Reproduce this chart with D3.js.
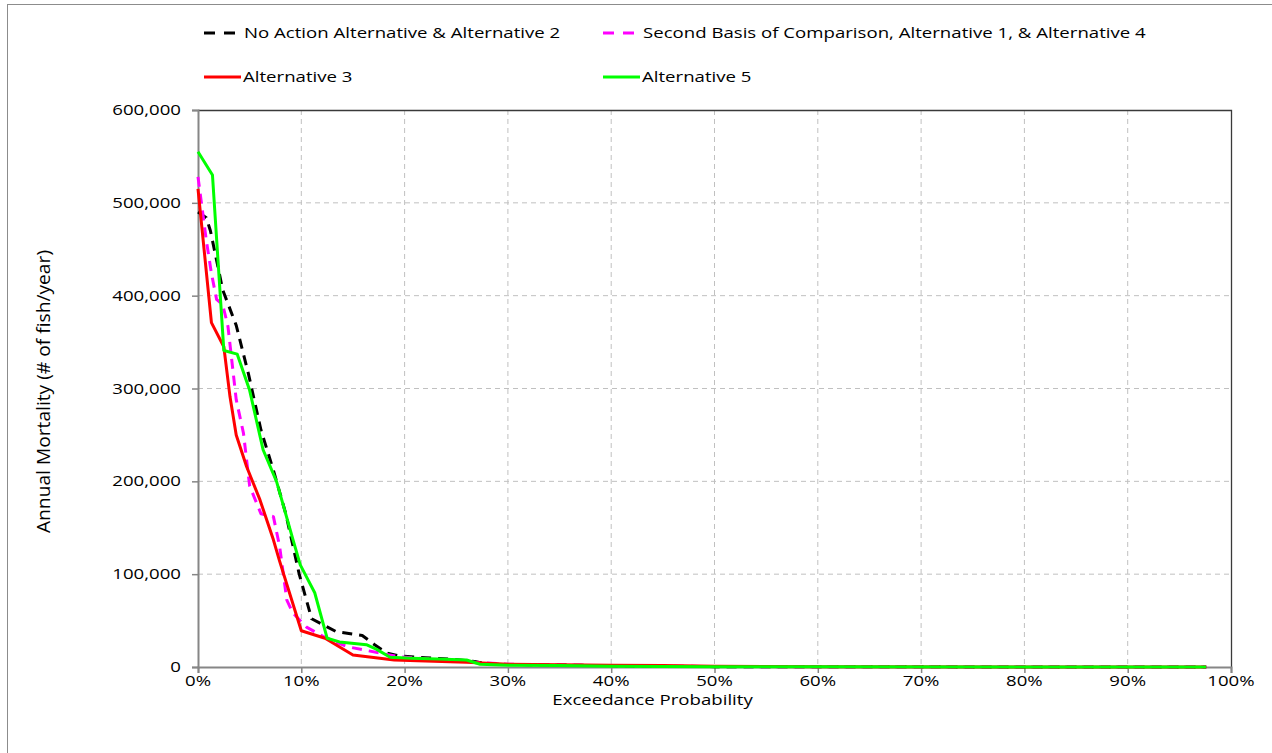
<!DOCTYPE html>
<html>
<head>
<meta charset="utf-8">
<script src="https://cdn.jsdelivr.net/npm/d3@7"></script>
<style>
  body { margin: 0; background: #fff; }
  text { font-family: "Open Sans", "Noto Sans", sans-serif; fill: #000; }
</style>
</head>
<body>
<div id="chart"></div>
<script>
// exceedance probability (%) and annual mortality (# of fish/year)
const noActionPts = [[0,490000],[0.8,484000],[1.2,470000],[2.4,406000],[3.7,368000],[4.9,315000],[6.1,255000],[7.3,212000],[8.5,165000],[9.8,100000],[11.0,52000],[12.2,45000],[13.4,38000],[14.6,36000],[15.9,34000],[17.1,24000],[18.3,15000],[19.5,12000],[22.0,10000],[24.4,8500],[26.8,6000],[28.0,3000],[32.0,2500],[36.0,2000],[40.0,1500],[45.0,700],[50.0,400],[60.0,200],[80.0,100],[97.6,50]];
const secondBasisPts = [[0,528000],[0.8,460000],[1.3,424000],[1.8,396000],[2.4,390000],[2.9,367000],[3.7,288000],[4.4,252000],[5.0,195000],[6.1,165000],[7.3,162000],[7.9,130000],[8.6,72000],[9.2,58000],[10.5,43000],[12.1,33000],[14.4,22000],[17.6,15000],[19.5,11000],[22.0,9000],[24.4,7000],[26.8,5000],[30.0,3000],[35.0,2000],[40.0,1500],[45.0,1000],[50.0,500],[60.0,200],[80.0,100],[97.6,50]];
const alt3Pts = [[0,515000],[1.3,371000],[2.5,345000],[3.1,291000],[3.7,250000],[4.7,216000],[6.0,180000],[7.3,137000],[7.9,114000],[10.0,39000],[12.3,31000],[15.0,13000],[19.0,7500],[22.0,6500],[26.0,5200],[28.0,4000],[30.0,3000],[35.0,2500],[40.0,2000],[45.0,1500],[50.0,800],[60.0,300],[80.0,100],[97.6,50]];
const alt5Pts = [[0,555000],[1.4,530000],[2.5,341000],[3.8,337000],[5.0,298000],[6.3,234000],[7.6,200000],[9.2,137000],[9.9,110000],[11.3,80000],[12.5,31000],[13.7,27000],[16.3,24000],[17.3,19000],[18.6,10500],[20.7,9500],[23.2,8500],[26.0,7500],[27.3,3000],[30.0,2000],[35.0,1500],[40.0,800],[50.0,400],[60.0,200],[80.0,100],[97.6,50]];

const seriesNames = ["No Action Alternative & Alternative 2", "Second Basis of Comparison, Alternative 1, & Alternative 4", "Alternative 3", "Alternative 5"];
const seriesColors = ["#000000", "#ff00ff", "#ff0000", "#00ff00"];
const seriesDash = ["10,7", "10,7", null, null];
const seriesPts = [noActionPts, secondBasisPts, alt3Pts, alt5Pts];

const xTicks = [0,10,20,30,40,50,60,70,80,90,100];
const yTicks = [0,100000,200000,300000,400000,500000,600000];

const width = 1272, height = 753;
const margin = { left: 198, right: 41, top: 110, bottom: 86 };
const sx = 1.33; // text in the source is stretched horizontally

const svg = d3.select('#chart').append('svg')
    .attr('width', width)
    .attr('height', height);

// outer frame
svg.append('rect')
    .attr('x', 7.5).attr('y', 4.5)
    .attr('width', width - 7).attr('height', height - 4)
    .attr('fill', 'none')
    .attr('stroke', '#8c8c8c');

const x = d3.scaleLinear().domain([0, 100]).range([margin.left, width - margin.right]);
const y = d3.scaleLinear().domain([0, 600000]).range([height - margin.bottom, margin.top]);

function stretchText(sel, tx, ty) {
    return sel.attr('transform', `translate(${tx},${ty}) scale(${sx},1)`);
}

// gridlines
svg.append('g').selectAll('line.gx')
    .data(xTicks.slice(1, -1))
    .join('line')
    .attr('x1', d => x(d)).attr('x2', d => x(d))
    .attr('y1', y(600000)).attr('y2', y(0))
    .attr('stroke', '#c0c0c0')
    .attr('stroke-dasharray', '5,4');
svg.append('g').selectAll('line.gy')
    .data(yTicks.slice(1, -1))
    .join('line')
    .attr('x1', x(0)).attr('x2', x(100))
    .attr('y1', d => y(d)).attr('y2', d => y(d))
    .attr('stroke', '#c0c0c0')
    .attr('stroke-dasharray', '5,4');

// plot border top and right
svg.append('path')
    .attr('d', `M${x(0)},${y(600000) + 0.5}H${x(100) + 0.5}V${y(0)}`)
    .attr('fill', 'none')
    .attr('stroke', '#3a3a3a')
    .attr('stroke-width', 1.3);

// axes
const yAxis = d3.axisLeft(y).tickValues(yTicks).tickSize(6).tickFormat(() => '');
const xAxis = d3.axisBottom(x).tickValues(xTicks).tickSize(6).tickFormat(() => '');
const gy = svg.append('g').attr('transform', `translate(${x(0)},0)`).call(yAxis);
const gx = svg.append('g').attr('transform', `translate(0,${y(0)})`).call(xAxis);
[gx, gy].forEach(g => {
    g.select('.domain').attr('stroke', '#868686').attr('stroke-width', 2);
    g.selectAll('.tick line').attr('stroke', '#868686').attr('stroke-width', 1.5);
});

// tick labels
svg.append('g').selectAll('text')
    .data(yTicks)
    .join('text')
    .attr('text-anchor', 'end')
    .attr('font-size', 14)
    .each(function(d) { stretchText(d3.select(this), x(0) - 17, y(d) + 5); })
    .text(d => d3.format(',')(d));
svg.append('g').selectAll('text')
    .data(xTicks)
    .join('text')
    .attr('text-anchor', 'middle')
    .attr('font-size', 14)
    .each(function(d) { stretchText(d3.select(this), x(d), y(0) + 19); })
    .text(d => d + '%');

// axis titles
stretchText(svg.append('text'), x(44), y(0) + 38)
    .attr('text-anchor', 'middle')
    .attr('font-size', 14)
    .text('Exceedance Probability');
svg.append('text')
    .attr('transform', `translate(50,${(y(0) + y(600000)) / 2 + 3}) rotate(-90) scale(1.28,1.25)`)
    .attr('text-anchor', 'middle')
    .attr('font-size', 15)
    .text('Annual Mortality (# of fish/year)');

// series
const line = d3.line().x(d => x(d[0])).y(d => y(d[1]));
seriesPts.forEach((pts, i) => {
    svg.append('path')
        .datum(pts)
        .attr('d', line)
        .attr('fill', 'none')
        .attr('stroke', seriesColors[i])
        .attr('stroke-width', 3)
        .attr('stroke-linejoin', 'round')
        .attr('stroke-dasharray', seriesDash[i]);
});

// legend
const legendPos = [[203, 33], [602, 33], [203, 77], [602, 77]];
seriesNames.forEach((name, i) => {
    const [lx, ly] = legendPos[i];
    const dashed = seriesDash[i] !== null;
    svg.append('line')
        .attr('x1', lx + 1).attr('x2', lx + 38)
        .attr('y1', ly).attr('y2', ly)
        .attr('stroke', seriesColors[i])
        .attr('stroke-width', 3)
        .attr('stroke-dasharray', dashed ? '11,9' : null);
    stretchText(svg.append('text'), lx + (dashed ? 41 : 40), ly + 5)
        .attr('font-size', 14)
        .text(name);
});
</script>
</body>
</html>
